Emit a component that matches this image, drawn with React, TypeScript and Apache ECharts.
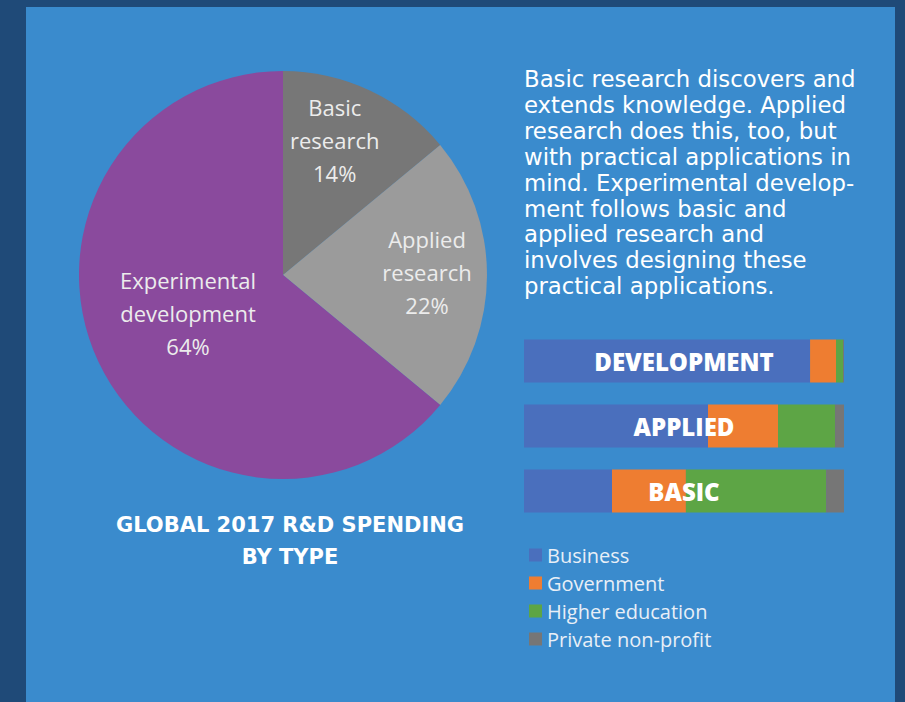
import React, { useEffect, useRef } from "react";
import * as echarts from "echarts";

const pieNames = ["Basic\nresearch", "Applied\nresearch", "Experimental\ndevelopment"];
const pieValues = [14, 22, 64];
const pieColors = ["#777777", "#9b9b9b", "#8a4a9d"];

const barCategories = ["DEVELOPMENT", "APPLIED", "BASIC"];
const sectorNames = ["Business", "Government", "Higher education", "Private non-profit"];
const sectorColors = ["#4a6fbd", "#ee7d31", "#5da545", "#767676"];
const businessShare = [89.4, 57.5, 27.5];
const governmentShare = [8.1, 21.9, 23.1];
const higherEdShare = [2.2, 17.8, 43.8];
const privateShare = [0.3, 2.8, 5.6];
const sectorValues = [businessShare, governmentShare, higherEdShare, privateShare];

const paragraph = [
  "Basic research discovers and",
  "extends knowledge. Applied",
  "research does this, too, but",
  "with practical applications in",
  "mind. Experimental develop-",
  "ment follows basic and",
  "applied research and",
  "involves designing these",
  "practical applications.",
];
const titleLines = ["GLOBAL 2017 R&D SPENDING", "BY TYPE"];

const labelOffsets = [
  [7, -40],
  [39, -3],
  [0, -7],
];

const FONT = "'Open Sans', sans-serif";
const PARA_FONT = "'DejaVu Sans', sans-serif";
const BOLD_FONT = "'Open Sans', Inter, sans-serif";
const TITLE_FONT = "'DejaVu Sans', sans-serif";

export default function App() {
  const ref = useRef<HTMLDivElement>(null);
  useEffect(() => {
    document.body.style.margin = "0";
    const chart = echarts.init(ref.current!, null, { renderer: "svg" });
    const barSeries = sectorNames.map((name, i) => ({
      name,
      type: "bar",
      stack: "total",
      barWidth: 43,
      data: sectorValues[i],
      itemStyle: { color: sectorColors[i] },
      silent: true,
    }));
    const paraTexts = paragraph.map((line, i) => ({
      type: "text",
      x: 524,
      y: 79 + i * 25.9,
      style: {
        text: line,
        font: `22.8px ${PARA_FONT}`,
        fill: "#ffffff",
        verticalAlign: "middle",
      },
    }));
    chart.setOption({
      animation: false,
      backgroundColor: "#1f4a78",
      color: sectorColors,
      graphic: [
        { type: "rect", z: -10, shape: { x: 26, y: 7, width: 869, height: 700 }, style: { fill: "#3a8bcd" } },
        ...paraTexts,
        {
          type: "text",
          x: 290,
          y: 509,
          style: {
            text: titleLines.join("\n"),
            font: `bold 21px ${TITLE_FONT}`,
            lineHeight: 32,
            fill: "#ffffff",
            align: "center",
            verticalAlign: "top",
          },
        },
      ],
      legend: {
        orient: "vertical",
        left: 524,
        top: 540,
        icon: "rect",
        itemWidth: 13,
        itemHeight: 13,
        itemGap: 8,
        data: sectorNames,
        selectedMode: false,
        textStyle: {
          color: "#e8eff7",
          fontSize: 20,
          lineHeight: 20,
          fontFamily: FONT,
        },
      },
      grid: { left: 524, top: 328.5, width: 320, height: 195, containLabel: false },
      xAxis: { type: "value", min: 0, max: 100, show: false },
      yAxis: { type: "category", data: barCategories, inverse: true, show: false },
      series: [
        {
          type: "pie",
          center: [283, 275],
          radius: 204,
          startAngle: 90,
          clockwise: true,
          silent: true,
          data: pieNames.map((n, i) => ({ name: n, value: pieValues[i], itemStyle: { color: pieColors[i] } })),
          label: {
            show: true,
            position: "inside",
            formatter: "{b}\n{c}%",
            color: "#ececec",
            fontSize: 22,
            lineHeight: 33,
            fontFamily: FONT,
          },
          labelLine: { show: false },
          labelLayout: (p: any) => ({ dx: labelOffsets[p.dataIndex][0], dy: labelOffsets[p.dataIndex][1] }),
        },
        ...barSeries,
        {
          name: "labels",
          type: "bar",
          barWidth: 43,
          barGap: "-100%",
          data: barCategories.map(() => 100),
          itemStyle: { color: "rgba(0,0,0,0)" },
          silent: true,
          z: 10,
          label: {
            show: true,
            position: "inside",
            formatter: "{b}",
            color: "#ffffff",
            fontSize: 24,
            fontWeight: 800,
            fontFamily: BOLD_FONT,
          },
        },
      ],
    });
    return () => chart.dispose();
  }, []);
  return <div ref={ref} style={{ width: 905, height: 702, position: "absolute", left: 0, top: 0 }} />;
}
